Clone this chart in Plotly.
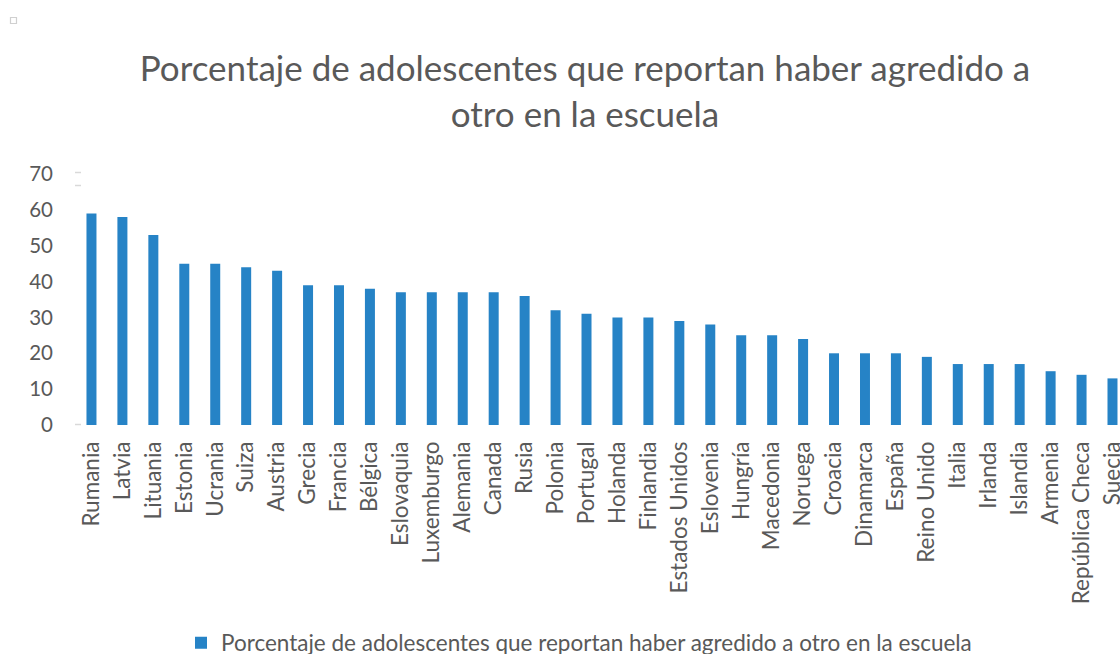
import plotly.graph_objects as go

# Países y porcentaje de adolescentes que reportan haber agredido a otro
paises = [
    "Rumania", "Latvia", "Lituania", "Estonia", "Ucrania", "Suiza", "Austria",
    "Grecia", "Francia", "Bélgica", "Eslovaquia", "Luxemburgo", "Alemania",
    "Canada", "Rusia", "Polonia", "Portugal", "Holanda", "Finlandia",
    "Estados Unidos", "Eslovenia", "Hungría", "Macedonia", "Noruega", "Croacia",
    "Dinamarca", "España", "Reino Unido", "Italia", "Irlanda", "Islandia",
    "Armenia", "República Checa", "Suecia",
]
porcentajes = [
    59, 58, 53, 45, 45, 44, 43,
    39, 39, 38, 37, 37, 37,
    37, 36, 32, 31, 30, 30,
    29, 28, 25, 25, 24, 20,
    20, 20, 19, 17, 17, 17,
    15, 14, 13,
]
y_ticks = [0, 10, 20, 30, 40, 50, 60, 70]

serie = "Porcentaje de adolescentes que reportan haber agredido a otro en la escuela"
titulo = "Porcentaje de adolescentes que reportan haber agredido a<br>otro en la escuela"

W, H = 1120, 654
L, R, T, B = 76, 0, 174, 229
GRIS = "#595959"
AZUL = "#2683C6"
FUENTE = "Lato, Calibri, sans-serif"

# px per category step; the last category runs into the right edge
paso = 30.94
x_fin = -0.5 + (W - L - R) / paso

fig = go.Figure(
    go.Bar(
        x=paises,
        y=porcentajes,
        name=serie,
        marker=dict(color=AZUL, line=dict(width=0)),
        showlegend=True,
    )
)

fig.update_layout(
    width=W,
    height=H,
    margin=dict(l=L, r=R, t=T, b=B, autoexpand=False),
    paper_bgcolor="white",
    plot_bgcolor="white",
    bargap=0.677,
    font=dict(family=FUENTE, color=GRIS),
    title=dict(
        text=titulo,
        font=dict(size=35, color=GRIS, family=FUENTE),
        x=585 / W,
        xanchor="center",
        xref="container",
        y=1 - 81 / H,
        yanchor="top",
        yref="container",
    ),
    xaxis=dict(
        range=[-0.5, x_fin],
        tickangle=-90,
        tickfont=dict(size=22.5, color=GRIS),
        showgrid=False,
        showline=False,
        zeroline=False,
        ticks="",
        ticklabelstandoff=11,
        fixedrange=True,
    ),
    yaxis=dict(
        range=[0, 70],
        tickvals=y_ticks,
        tickfont=dict(size=20.5, color=GRIS),
        showgrid=False,
        showline=False,
        zeroline=False,
        ticks="",
        ticklabelstandoff=22,
        fixedrange=True,
    ),
    legend=dict(
        orientation="h",
        xref="container",
        yref="container",
        x=181 / W,
        xanchor="left",
        y=1 - 643 / H,
        yanchor="middle",
        font=dict(size=22.5, color=GRIS),
        itemwidth=30,
        bgcolor="rgba(0,0,0,0)",
    ),
)

# small light-grey axis dashes and the corner handle
def px_x(px):
    return (px - L) / (W - L - R)

def px_y(py):
    return (H - B - py) / (H - T - B)

dashes = [424.5, 172.5, 185.5]
for yy in dashes:
    fig.add_shape(
        type="line", xref="paper", yref="paper",
        x0=px_x(75), x1=px_x(81), y0=px_y(yy), y1=px_y(yy),
        line=dict(color="#D9D9D9", width=1.5),
    )
fig.add_shape(
    type="rect", xref="paper", yref="paper",
    x0=px_x(10.5), x1=px_x(16.5), y0=px_y(17.5), y1=px_y(23.5),
    line=dict(color="#D0D0D0", width=1.2), fillcolor="white",
)

fig.write_html("out.html", config={"displayModeBar": False})
